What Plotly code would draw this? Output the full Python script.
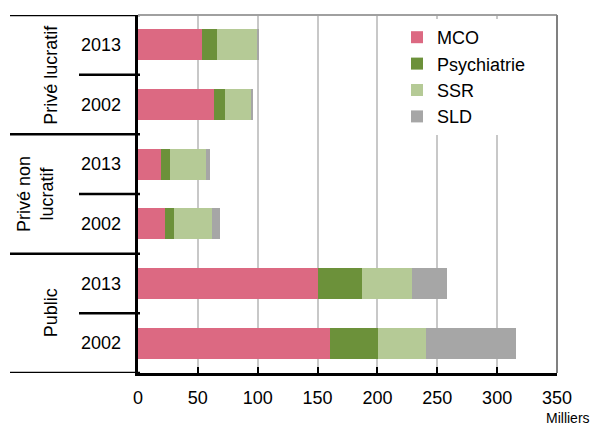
import plotly.graph_objects as go

groups = ["Privé lucratif", "Privé lucratif", "Privé non lucratif", "Privé non lucratif", "Public", "Public"]
years = ["2013", "2002", "2013", "2002", "2013", "2002"]
mco = [53.5, 63.2, 19.2, 22.2, 150.4, 160.1]
psy = [12.7, 9.7, 7.8, 8.1, 37.0, 40.6]
ssr = [33.5, 21.8, 30.1, 31.5, 41.8, 39.9]
sld = [0.8, 1.3, 2.7, 6.4, 28.9, 74.9]
series_names = ["MCO", "Psychiatrie", "SSR", "SLD"]
colors = ["#DC6982", "#6C913A", "#B5CA96", "#A6A6A6"]
group_labels = ["Privé lucratif", "Privé non<br>lucratif", "Public"]
x_ticks = [0, 50, 100, 150, 200, 250, 300, 350]
unit_label = "Milliers"

FONT = "Liberation Sans, Arial, sans-serif"
cats = [g + " " + y for g, y in zip(groups, years)]

fig = go.Figure()
for name, vals, col in zip(series_names, [mco, psy, ssr, sld], colors):
    fig.add_trace(go.Bar(x=vals, y=cats, orientation="h", name=name,
                         marker=dict(color=col, line=dict(width=0)), width=0.52))

# page body has an 8px margin; work in window pixels
OFF = 8
W, H = 598 - OFF, 427 - OFF
PX0, PX1, PY0, PY1 = 138, 557, 15, 373   # plot area in window pixels
L = PX0 - OFF
T = PY0 - OFF
R = 598 - PX1
B = 427 - PY1
pw = PX1 - PX0
ph = PY1 - PY0

def px_x(p):
    return (p - PX0) / pw

def px_y(p):
    return (PY1 - p) / ph

annotations = []
for c, yr in zip(cats, years):
    annotations.append(dict(x=px_x(101), xref="paper", y=c, yref="y", text=yr,
                            showarrow=False, xanchor="center", yanchor="middle",
                            font=dict(size=18, color="black", family=FONT)))
uniq = []
for g in groups:
    if g not in uniq:
        uniq.append(g)
gx = [51, 35, 51]
for i, (g, lab) in enumerate(zip(uniq, group_labels)):
    idx = [k for k, gg in enumerate(groups) if gg == g]
    ymid = (idx[0] + idx[-1]) / 2
    annotations.append(dict(x=px_x(gx[i]), xref="paper", y=ymid, yref="y", text=lab,
                            showarrow=False, textangle=-90, xanchor="center", yanchor="middle",
                            font=dict(size=18, color="black", family=FONT)))
annotations.append(dict(x=px_x(568), xref="paper", y=px_y(408), yref="paper",
                        text=unit_label, showarrow=False, xanchor="center", yanchor="top",
                        font=dict(size=14, color="black", family=FONT)))

shapes = []
n = len(cats)
bounds = [-0.5]
for k in range(1, n):
    if groups[k] != groups[k - 1]:
        bounds.append(k - 0.5)
bounds.append(n - 0.5)
for b in bounds:
    shapes.append(dict(type="line", xref="paper", yref="y", x0=px_x(10), x1=px_x(140), y0=b, y1=b,
                       line=dict(color="black", width=2.5)))
for k in range(1, n):
    if groups[k] == groups[k - 1]:
        shapes.append(dict(type="line", xref="paper", yref="y", x0=px_x(79), x1=px_x(140),
                           y0=k - 0.5, y1=k - 0.5, line=dict(color="black", width=2.5)))
shapes.append(dict(type="line", xref="paper", yref="paper", x0=0, x1=1, y0=1, y1=1,
                   line=dict(color="#A0A0A0", width=2)))
shapes.append(dict(type="line", xref="paper", yref="paper", x0=1, x1=1, y0=0, y1=1,
                   line=dict(color="#808080", width=2)))

fig.update_layout(
    barmode="stack",
    width=W, height=H,
    margin=dict(l=L, r=R, t=T, b=B, pad=0),
    plot_bgcolor="white", paper_bgcolor="white",
    font=dict(family=FONT, size=18, color="black"),
    xaxis=dict(range=[0, 350], tickvals=x_ticks, showgrid=True, gridcolor="#C8C8C8", gridwidth=1.5,
               zeroline=False, showline=True, linecolor="black", linewidth=2.5,
               ticks="inside", ticklen=6, tickwidth=2, tickcolor="black",
               tickfont=dict(size=18, family=FONT, color="black"), ticklabelstandoff=7),
    yaxis=dict(type="category", categoryorder="array", categoryarray=cats,
               autorange=False, range=[n - 0.5, -0.5], showgrid=False, zeroline=False,
               showline=True, linecolor="black", linewidth=2.5, showticklabels=False, ticks=""),
    legend=dict(x=px_x(397), y=px_y(19), xanchor="left", yanchor="top",
                bgcolor="white", font=dict(size=18, family=FONT, color="black"),
                itemwidth=30, tracegroupgap=0, traceorder="normal"),
    showlegend=True,
    annotations=annotations,
    shapes=shapes,
)

fig.write_html("out.html")
